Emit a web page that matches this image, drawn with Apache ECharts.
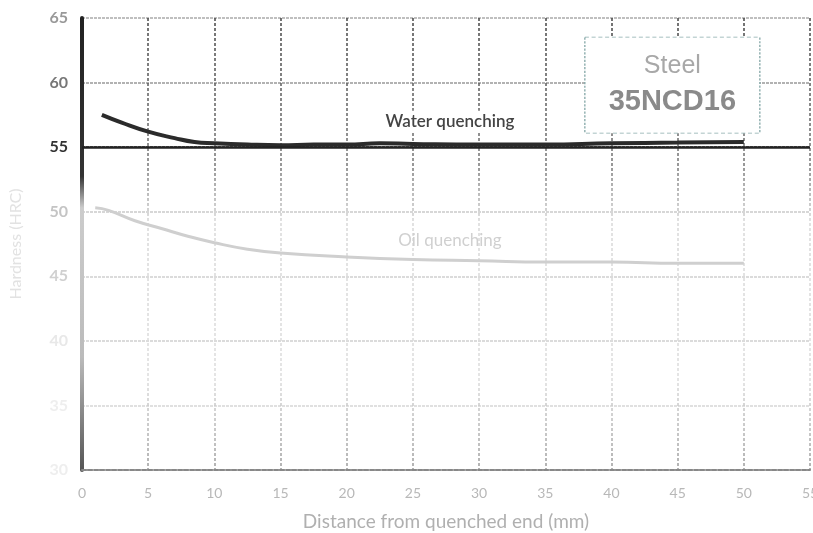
<!DOCTYPE html>
<html>
<head>
<meta charset="utf-8">
<script src="https://cdn.jsdelivr.net/npm/echarts@6/dist/echarts.min.js"></script>
<style>
	html, body { margin: 0; padding: 0; background: #fff; }
	#chart { width: 813px; height: 533px; }
</style>
</head>
<body>
<div id="chart"></div>
<script>
	// readings taken off the scanned Jominy plot
	var distWater = [1.5, 3, 5, 7, 8.5, 10, 12.5, 15, 17.5, 20, 22.5, 25, 30, 35, 40, 45, 50]
	var hrcWater = [57.5, 56.9, 56.2, 55.7, 55.4, 55.3, 55.2, 55.15, 55.2, 55.2, 55.3, 55.25, 55.2, 55.2, 55.3, 55.35, 55.4]
	var distOil = [1, 2, 4, 6, 8, 10, 12.5, 15, 20, 25, 30, 35, 40, 45, 50]
	var hrcOil = [50.3, 50.1, 49.3, 48.7, 48.1, 47.6, 47.1, 46.8, 46.5, 46.3, 46.2, 46.1, 46.1, 46.0, 46.0]
	var xRange = [0, 55]
	var yRange = [30, 65]
	var titles = ['Water quenching', 'Oil quenching']
	var steelName = ['Steel', '35NCD16']

	function pairs(xs, ys) {
		var out = []
		for (var i = 0; i < xs.length; i++) {
			out.push([xs[i], ys[i]])
		}
		return out
	}

	// faded scan: strong at the top, washed out in the middle
	var labelColors = { 30: '#eee', 35: '#eee', 40: '#e8e8e8', 45: '#d0d0d0', 50: '#c4c4c4', 55: '#333', 60: '#777', 65: '#999' }
	var vGrad = {
		type: 'linear', global: true, x: 0, y: 18, x2: 0, y2: 470,
		colorStops: [
			{ offset: 0, color: '#444' },
			{ offset: 0.33, color: '#777' },
			{ offset: 0.45, color: '#d8d8d8' },
			{ offset: 0.8, color: '#dcdcdc' },
			{ offset: 1, color: '#999' }
		]
	}
	var axisGrad = {
		type: 'linear', global: true, x: 0, y: 18, x2: 0, y2: 470,
		colorStops: [
			{ offset: 0, color: '#222' },
			{ offset: 0.35, color: '#333' },
			{ offset: 0.42, color: '#ccc' },
			{ offset: 0.75, color: '#bbb' },
			{ offset: 1, color: '#555' }
		]
	}

	var myChart = echarts.init(document.getElementById('chart'))
	var option = {
		animation: false,
		grid: { left: 82, right: 3, top: 18, bottom: 63, outerBoundsMode: 'none' },
		xAxis: {
			type: 'value',
			min: xRange[0],
			max: xRange[1],
			interval: 5,
			name: 'Distance from quenched end (mm)',
			nameLocation: 'middle',
			nameGap: 42,
			nameTextStyle: { color: '#b0b0b0', fontSize: 19, fontFamily: 'Lato' },
			axisLine: { lineStyle: { color: '#888', width: 2, type: [4, 2] } },
			axisTick: { show: false },
			axisLabel: { color: '#b8b8b8', fontSize: 14, fontFamily: 'Lato', margin: 16 },
			splitLine: { show: true, lineStyle: { color: vGrad, width: 1.5, type: [3, 2] } }
		},
		yAxis: {
			type: 'value',
			min: yRange[0],
			max: yRange[1],
			interval: 5,
			name: 'Hardness (HRC)',
			nameLocation: 'middle',
			nameGap: 58,
			nameTextStyle: { color: '#e2e2e2', fontSize: 16, fontFamily: 'Lato' },
			axisLine: { show: true, lineStyle: { color: axisGrad, width: 4 } },
			axisTick: { show: false },
			axisLabel: {
				fontSize: 16,
				fontWeight: 'bold',
				fontFamily: 'Lato',
				margin: 14,
				color: function (value) {
					return labelColors[value] || '#ccc'
				}
			},
			splitLine: {
				show: true,
				lineStyle: {
					color: ['#999', '#d6d6d6', '#cfcfcf', '#d0d0d0', '#cacaca', '#333', '#999', '#aaa'],
					width: 1.5,
					type: [3, 1]
				}
			}
		},
		series: [
			{
				name: titles[0],
				type: 'line',
				smooth: true,
				showSymbol: false,
				z: 3,
				lineStyle: { color: '#2b2b2b', width: 4 },
				data: pairs(distWater, hrcWater),
				markLine: {
					silent: true,
					symbol: 'none',
					label: { show: false },
					lineStyle: { color: '#222', width: 2.5, type: 'solid' },
					data: [{ yAxis: 55 }]
				},
				markPoint: {
					silent: true,
					data: [
						{
							coord: [27.8, 57.0],
							symbol: 'rect',
							symbolSize: 0,
							label: {
								show: true,
								formatter: titles[0],
								color: '#444',
								fontSize: 17,
								fontWeight: 600,
								fontFamily: 'Lato',
								backgroundColor: '#fff',
								padding: [2, 4]
							}
						},
						{
							coord: [44.6, 59.8],
							symbol: 'rect',
							symbolSize: [175, 96],
							itemStyle: { color: '#fff', borderColor: '#8aa', borderWidth: 1, borderType: [3, 2] },
							label: {
								show: true,
								position: 'inside',
								formatter: '{a|' + steelName[0] + '}\n{b|' + steelName[1] + '}',
								rich: {
									a: { color: '#a8a8a8', fontSize: 25, fontFamily: 'Liberation Sans', lineHeight: 34 },
									b: { color: '#8a8a8a', fontSize: 29, fontWeight: 'bold', fontFamily: 'Liberation Sans', lineHeight: 38 }
								}
							}
						}
					]
				}
			},
			{
				name: titles[1],
				type: 'line',
				smooth: true,
				showSymbol: false,
				z: 2,
				lineStyle: { color: '#cfcfcf', width: 3 },
				data: pairs(distOil, hrcOil),
				markPoint: {
					silent: true,
					data: [
						{
							coord: [27.8, 47.8],
							symbol: 'rect',
							symbolSize: 0,
							label: {
								show: true,
								formatter: titles[1],
								color: '#d0d0d0',
								fontSize: 17,
								fontFamily: 'Lato'
							}
						}
					]
				}
			}
		]
	}
	myChart.setOption(option)
</script>
</body>
</html>
